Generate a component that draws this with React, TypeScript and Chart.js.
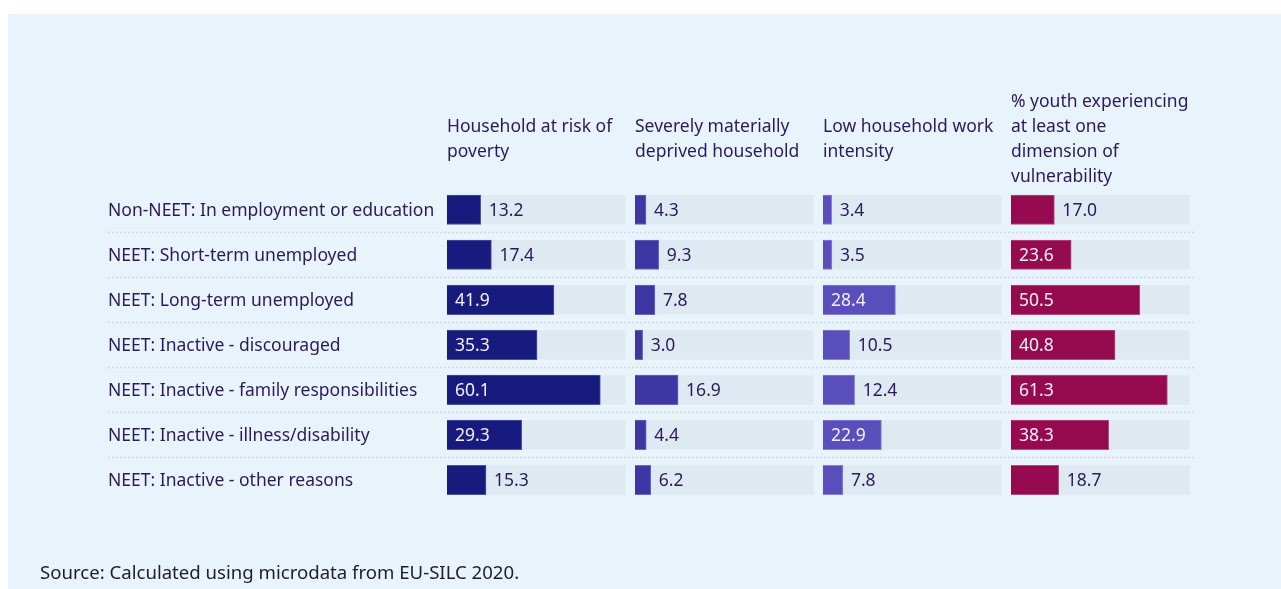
import React, { useEffect, useRef } from "react";
import { Chart, registerables } from "chart.js";

Chart.register(...registerables);

const CATEGORIES = [
  "Non-NEET: In employment or education",
  "NEET: Short-term unemployed",
  "NEET: Long-term unemployed",
  "NEET: Inactive - discouraged",
  "NEET: Inactive - family responsibilities",
  "NEET: Inactive - illness/disability",
  "NEET: Inactive - other reasons",
];

const HEADER_POVERTY = ["Household at risk of", "poverty"];
const HEADER_DEPRIVED = ["Severely materially", "deprived household"];
const HEADER_LOW_WORK = ["Low household work", "intensity"];
const HEADER_ANY = ["% youth experiencing", "at least one", "dimension of", "vulnerability"];

const POVERTY = [13.2, 17.4, 41.9, 35.3, 60.1, 29.3, 15.3];
const DEPRIVED = [4.3, 9.3, 7.8, 3.0, 16.9, 4.4, 6.2];
const LOW_WORK = [3.4, 3.5, 28.4, 10.5, 12.4, 22.9, 7.8];
const ANY_VULN = [17.0, 23.6, 50.5, 40.8, 61.3, 38.3, 18.7];

const TRACK_MAX = 70;
const COL_MAX = 73.7;
const INSIDE_THRESHOLD = 20;

const FONT = "'Noto Sans', 'Open Sans', sans-serif";
const FONT_SIZE = 17.5;
const TEXT = "#2a1a5a";
const TRACK = "#dfe9f1";

const COLUMNS = [
  { id: "x0", header: HEADER_POVERTY, data: POVERTY, color: "#171b7e", border: "#4e52a0" },
  { id: "x1", header: HEADER_DEPRIVED, data: DEPRIVED, color: "#3e36a2", border: "#6c66bd" },
  { id: "x2", header: HEADER_LOW_WORK, data: LOW_WORK, color: "#5a4ebd", border: "#8880d2" },
  { id: "x3", header: HEADER_ANY, data: ANY_VULN, color: "#960a50", border: "#b54c80" },
];

const W = 1273;
const H = 575;

const overlayPlugin = {
  id: "overlay",
  beforeDatasetsDraw(chart: any) {
    const ctx = chart.ctx;
    const yScale = chart.scales.y;
    ctx.save();
    ctx.strokeStyle = "#d2dae3";
    ctx.lineWidth = 1.5;
    ctx.setLineDash([2, 2]);
    for (let i = 0; i < CATEGORIES.length - 1; i++) {
      const y = Math.round((yScale.getPixelForValue(i) + yScale.getPixelForValue(i + 1)) / 2) + 0.5;
      ctx.beginPath();
      ctx.moveTo(yScale.left, y);
      ctx.lineTo(chart.chartArea.right - 3, y);
      ctx.stroke();
    }
    ctx.restore();
    ctx.save();
    ctx.fillStyle = TRACK;
    COLUMNS.forEach((col, di) => {
      const xs = chart.scales[col.id];
      const meta = chart.getDatasetMeta(di);
      meta.data.forEach((el: any) => {
        const x0 = xs.getPixelForValue(0);
        const x1 = xs.getPixelForValue(TRACK_MAX);
        ctx.fillRect(x0, el.y - el.height / 2, x1 - x0, el.height);
      });
    });
    ctx.restore();
  },
  afterDatasetsDraw(chart: any) {
    const ctx = chart.ctx;
    ctx.save();
    ctx.font = `${FONT_SIZE}px ${FONT}`;
    ctx.textBaseline = "middle";
    ctx.textAlign = "left";
    COLUMNS.forEach((col, di) => {
      const meta = chart.getDatasetMeta(di);
      meta.data.forEach((el: any, i: number) => {
        const v = col.data[i];
        const label = v.toFixed(1);
        if (v >= INSIDE_THRESHOLD) {
          ctx.fillStyle = "#f4f0fa";
          ctx.fillText(label, el.base + 8, el.y + 1);
        } else {
          ctx.fillStyle = TEXT;
          ctx.fillText(label, el.x + 8, el.y + 1);
        }
      });
    });
    ctx.fillStyle = TEXT;
    const lineH = 25;
    const centerY = 125.5;
    COLUMNS.forEach((col) => {
      const xs = chart.scales[col.id];
      const n = col.header.length;
      col.header.forEach((line, k) => {
        const y = centerY + (k - (n - 1) / 2) * lineH;
        ctx.fillText(line, xs.left, y);
      });
    });
    ctx.font = `18.6px ${FONT}`;
    ctx.fillStyle = "#1e1e24";
    ctx.fillText("Source: Calculated using microdata from EU-SILC 2020.", 32, 560);
    ctx.restore();
  },
};

export default function App() {
  const ref = useRef<HTMLCanvasElement | null>(null);
  useEffect(() => {
    if (!ref.current) return;
    const scales: any = {
      y: {
        type: "category",
        position: "left",
        grid: { display: false },
        border: { display: false },
        ticks: {
          font: { family: FONT, size: FONT_SIZE },
          color: TEXT,
          crossAlign: "far",
          padding: 0,
          labelOffset: 1,
        },
        afterFit: (axis: any) => {
          axis.width = 339;
        },
      },
    };
    COLUMNS.forEach((col) => {
      scales[col.id] = {
        type: "linear",
        position: "bottom",
        stack: "cols",
        min: 0,
        max: COL_MAX,
        display: false,
      };
    });
    const chart = new Chart(ref.current, {
      type: "bar",
      data: {
        labels: CATEGORIES,
        datasets: COLUMNS.map((col) => ({
          label: col.header.join(" "),
          data: col.data,
          xAxisID: col.id,
          yAxisID: "y",
          backgroundColor: col.color,
          borderColor: col.border,
          borderWidth: 1,
          grouped: false,
          barThickness: 29.5,
        })),
      },
      options: {
        indexAxis: "y",
        animation: false,
        responsive: false,
        devicePixelRatio: 1,
        layout: { padding: { left: 100, top: 173.2, right: 82, bottom: 86.5 } },
        plugins: { legend: { display: false }, tooltip: { enabled: false } },
        scales,
      },
      plugins: [overlayPlugin],
    } as any);
    return () => chart.destroy();
  }, []);
  return (
    <div
      style={{
        position: "absolute",
        left: 8,
        top: 14,
        width: W,
        height: H,
        background: "#e9f3fc",
      }}
    >
      <canvas ref={ref} width={W} height={H} style={{ display: "block" }} />
    </div>
  );
}
